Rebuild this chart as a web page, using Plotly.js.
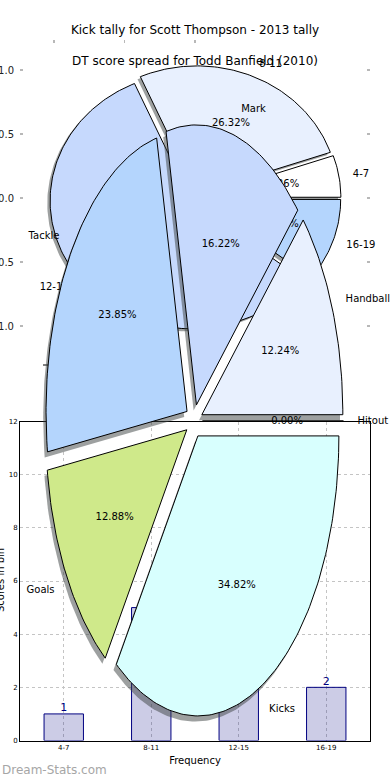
<!DOCTYPE html>
<html><head><meta charset="utf-8">
<script src="https://cdn.plot.ly/plotly-3.0.1.min.js"></script>
<style>html,body{margin:0;padding:0;background:#fff}#chart{width:390px;height:780px}</style>
</head><body><div id="chart"></div>
<script>
// ---- data ----
const barCategories = ['4-7', '8-11', '12-15', '16-19'];
const barCounts = [1, 5, 4, 2];
const barShownLabels = ['1', '5', '', '2'];

const binLabels = ['4-7', '8-11', '12-15', '16-19'];
const binCounts = [1, 5, 11, 2];

const statLabels = ['Hitout', 'Handball', 'Mark', 'Tackle', 'Goals', 'Kicks'];
const statPct = [0, 12.24, 16.22, 23.85, 12.88, 34.82];

const titleTop = 'Kick tally for Scott Thompson - 2013 tally';
const titlePie = 'DT score spread for Todd Banfield (2010)';

// ---- styling ----
const W = 390, H = 780;
const FONT = 'DejaVu Sans, sans-serif';
const wedgeColors = ['#ffffff', '#e8f0fe', '#c6d9fd', '#b4d5fd', '#cfe98a', '#d8fffe'];
const shadowColor = 'rgba(60,66,66,0.5)';

// pie geometry (pixels)
const P2 = {cx: 195, cy: 198, rx: 141, ry: 128, left: 20, right: 370, top: 40, bottom: 356, explode: 0.035};
const P3 = {cx: 194, cy: 421, rx: 141, ry: 280, explode: 0.06};
const BAR = {left: 20, right: 370, top: 421.5, bottom: 740.5};

function wedges(values, explode) {
  const tot = values.reduce((a, b) => a + b, 0);
  let start = 0;
  return values.map((v, i) => {
    const frac = v / tot;
    const t1 = start * 2 * Math.PI, t2 = (start + frac) * 2 * Math.PI;
    start += frac;
    const tm = (t1 + t2) / 2;
    const ax = explode * Math.cos(tm), ay = explode * Math.sin(tm);
    const xs = [ax], ys = [ay];
    const n = Math.max(2, Math.ceil((t2 - t1) / 0.02));
    for (let k = 0; k <= n; k++) {
      const t = t1 + (t2 - t1) * k / n;
      xs.push(ax + Math.cos(t)); ys.push(ay + Math.sin(t));
    }
    xs.push(ax); ys.push(ay);
    return {xs, ys, ax, ay, tm, frac};
  });
}

const traces = [];
// bar chart
traces.push({
  type: 'bar', x: barCategories, y: barCounts, width: 0.45,
  marker: {color: 'rgba(0,0,128,0.2)', line: {color: '#000080', width: 1}},
  xaxis: 'x', yaxis: 'y', hoverinfo: 'skip'
});
traces.push({
  type: 'scatter', mode: 'text', x: barCategories, y: barCounts, text: barShownLabels,
  textposition: 'top center', textfont: {family: FONT, size: 11, color: '#000080'},
  xaxis: 'x', yaxis: 'y', cliponaxis: false, hoverinfo: 'skip'
});

function addPie(values, labels, explode, axX, axY, colors) {
  const ws = wedges(values, explode);
  const tot = values.reduce((a, b) => a + b, 0);
  ws.forEach((w) => {
    traces.push({type: 'scatter', mode: 'lines', x: w.xs.map(v => v - 0.02), y: w.ys.map(v => v - 0.02),
      fill: 'toself', fillcolor: shadowColor, line: {width: 0, color: shadowColor},
      xaxis: axX, yaxis: axY, hoverinfo: 'skip'});
  });
  ws.forEach((w, i) => {
    traces.push({type: 'scatter', mode: 'lines', x: w.xs, y: w.ys,
      fill: 'toself', fillcolor: colors[i], line: {width: 1, color: '#000'},
      xaxis: axX, yaxis: axY, hoverinfo: 'skip'});
  });
  const lx = [], ly = [], lt = [], lp = [];
  const px = [], py = [], pt = [];
  ws.forEach((w, i) => {
    const c = Math.cos(w.tm), s = Math.sin(w.tm);
    lx.push(w.ax + 1.1 * c); ly.push(w.ay + 1.1 * s); lt.push(labels[i]);
    lp.push(c >= 0 ? 'middle right' : 'middle left');
    px.push(w.ax + 0.6 * c); py.push(w.ay + 0.6 * s);
    pt.push((100 * values[i] / tot).toFixed(2) + '%');
  });
  traces.push({type: 'scatter', mode: 'text', x: px, y: py, text: pt, textposition: 'middle center',
    textfont: {family: FONT, size: 10, color: '#000'}, xaxis: axX, yaxis: axY, cliponaxis: false, hoverinfo: 'skip'});
  traces.push({type: 'scatter', mode: 'text', x: lx, y: ly, text: lt, textposition: lp,
    textfont: {family: FONT, size: 10, color: '#000'}, xaxis: axX, yaxis: axY, cliponaxis: false, hoverinfo: 'skip'});
}

addPie(binCounts, binLabels, P2.explode, 'x2', 'y2', wedgeColors);
// stray tick label from an underlying axes
traces.push({type: 'scatter', mode: 'text', x: [(190 - P2.cx) / P2.rx], y: [(P2.cy - 365) / P2.ry], text: ['0'],
  textposition: 'middle center', textfont: {family: FONT, size: 10, color: '#000'},
  xaxis: 'x2', yaxis: 'y2', cliponaxis: false, hoverinfo: 'skip'});
addPie(statPct, statLabels, P3.explode, 'x3', 'y3', wedgeColors);

const layout = {
  width: W, height: H, margin: {l: 0, r: 0, t: 0, b: 0, pad: 0},
  paper_bgcolor: '#fff', plot_bgcolor: 'rgba(0,0,0,0)', showlegend: false,
  font: {family: FONT, color: '#000'},
  title: {text: titleTop, font: {family: FONT, size: 12, color: '#000'}, x: 0.5, xanchor: 'center',
    y: 1 - 30 / H, yanchor: 'middle', xref: 'paper', yref: 'paper'},
  xaxis: {domain: [BAR.left / W, BAR.right / W], anchor: 'y', type: 'category', range: [-0.5, 3.5],
    showgrid: true, griddash: 'dot', gridcolor: '#c4c4c4', gridwidth: 1,
    showline: true, mirror: true, linecolor: '#000', linewidth: 1, ticks: '', zeroline: false,
    tickfont: {family: FONT, size: 7, color: '#000'},
    title: {text: 'Frequency', font: {family: FONT, size: 10, color: '#000'}, standoff: 6}, automargin: false},
  yaxis: {domain: [1 - BAR.bottom / H, 1 - BAR.top / H], anchor: 'x', range: [0, 12], dtick: 2,
    showgrid: true, griddash: 'dot', gridcolor: '#c4c4c4', gridwidth: 1,
    showline: true, mirror: true, linecolor: '#000', linewidth: 1, ticks: '', zeroline: false,
    tickfont: {family: FONT, size: 7, color: '#000'}, automargin: false},
  xaxis2: {domain: [P2.left / W, P2.right / W], anchor: 'y2', side: 'top',
    range: [(P2.left - P2.cx) / P2.rx, (P2.right - P2.cx) / P2.rx],
    tickvals: [-1, -0.5, 0], ticks: 'inside', ticklen: 3, tickcolor: '#b8b8b8', tickwidth: 1.5,
    showticklabels: false, showgrid: false, zeroline: false, showline: false},
  yaxis2: {domain: [1 - P2.bottom / H, 1 - P2.top / H], anchor: 'x2',
    range: [(P2.cy - P2.bottom) / P2.ry, (P2.cy - P2.top) / P2.ry],
    tickvals: [-1, -0.5, 0, 0.5, 1], ticktext: ['\u22121.0', '\u22120.5', '0.0', '0.5', '1.0'],
    ticks: 'inside', ticklen: 3, tickcolor: '#b8b8b8', tickwidth: 1.5, mirror: 'ticks',
    ticklabelstandoff: 5,
    showgrid: false, zeroline: false, showline: false,
    tickfont: {family: FONT, size: 10, color: '#222'}},
  xaxis3: {domain: [0, 1], anchor: 'y3', range: [-P3.cx / P3.rx, (W - P3.cx) / P3.rx], visible: false},
  yaxis3: {domain: [0, 1], anchor: 'x3', range: [(P3.cy - H) / P3.ry, P3.cy / P3.ry], visible: false},
  annotations: [
    {text: titlePie, xref: 'paper', yref: 'paper', x: 0.5, y: 1 - 61 / H, xanchor: 'center', yanchor: 'middle',
      showarrow: false, font: {family: FONT, size: 12, color: '#000'}},
    {text: 'Scores in bin', xref: 'paper', yref: 'paper', x: 0, y: 1 - 580 / H, xanchor: 'center', yanchor: 'middle',
      textangle: -90, showarrow: false, font: {family: FONT, size: 10, color: '#000'}},
    {text: 'Dream-Stats.com', xref: 'paper', yref: 'paper', x: 0, y: 1 - 770 / H, xanchor: 'left', yanchor: 'middle',
      showarrow: false, font: {family: FONT, size: 12, color: '#a6a6a6'}}
  ],
  shapes: [
    {type: 'line', xref: 'paper', yref: 'paper', x0: 43 / W, x1: 49 / W, y0: 1 - 365 / H, y1: 1 - 365 / H,
      line: {color: '#000', width: 1}, layer: 'below'}
  ]
};

Plotly.newPlot('chart', traces, layout, {staticPlot: true, displayModeBar: false});
</script></body></html>
